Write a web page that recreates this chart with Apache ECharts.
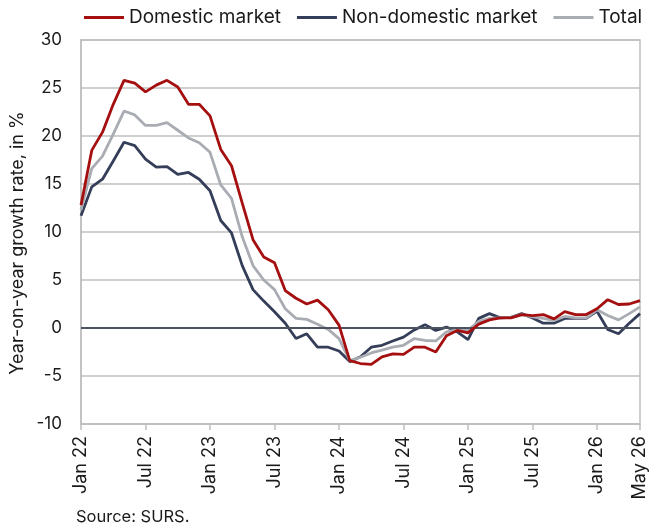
<!DOCTYPE html>
<html>
<head>
<meta charset="utf-8">
<script src="https://cdn.jsdelivr.net/npm/echarts@6/dist/echarts.min.js"></script>
<style>
html,body{margin:0;padding:0;background:#fff;}
#chart{width:651px;height:532px;}
</style>
</head>
<body>
<div id="chart"></div>
<script>
var months = [
 'Jan 22','Feb 22','Mar 22','Apr 22','May 22','Jun 22','Jul 22','Aug 22','Sep 22','Oct 22','Nov 22','Dec 22',
 'Jan 23','Feb 23','Mar 23','Apr 23','May 23','Jun 23','Jul 23','Aug 23','Sep 23','Oct 23','Nov 23','Dec 23',
 'Jan 24','Feb 24','Mar 24','Apr 24','May 24','Jun 24','Jul 24','Aug 24','Sep 24','Oct 24','Nov 24','Dec 24',
 'Jan 25','Feb 25','Mar 25','Apr 25','May 25','Jun 25','Jul 25','Aug 25','Sep 25','Oct 25','Nov 25','Dec 25',
 'Jan 26','Feb 26','Mar 26','Apr 26','May 26'
];
var shownLabels = ['Jan 22','Jul 22','Jan 23','Jul 23','Jan 24','Jul 24','Jan 25','Jul 25','Jan 26','May 26'];

var domestic = [
 12.8,18.5,20.4,23.3,25.8,25.5,24.6,25.3,25.8,25.1,23.3,23.3,
 22.1,18.6,16.9,13.0,9.2,7.4,6.8,3.9,3.1,2.5,2.9,1.9,
 0.3,-3.4,-3.7,-3.8,-3.0,-2.7,-2.75,-2.0,-2.0,-2.5,-0.8,-0.25,
 -0.5,0.4,0.85,1.05,1.05,1.4,1.3,1.4,0.95,1.7,1.4,1.4,
 2.0,2.95,2.45,2.5,2.85
];
var nonDomestic = [
 11.7,14.7,15.5,17.4,19.35,19.0,17.6,16.75,16.8,16.0,16.2,15.5,
 14.3,11.2,9.9,6.5,4.0,2.8,1.7,0.5,-1.1,-0.6,-2.0,-2.0,
 -2.4,-3.5,-3.0,-2.0,-1.8,-1.35,-0.95,-0.2,0.35,-0.25,0.1,-0.4,
 -1.2,1.0,1.5,1.05,1.1,1.5,1.05,0.5,0.5,1.0,1.0,1.0,
 1.75,-0.15,-0.6,0.5,1.5
];
var total = [
 12.3,16.6,17.9,20.2,22.6,22.2,21.1,21.1,21.4,20.6,19.8,19.3,
 18.3,14.9,13.5,9.5,6.5,5.0,4.0,2.0,1.0,0.9,0.4,-0.15,
 -1.1,-3.4,-3.05,-2.6,-2.3,-2.0,-1.8,-1.1,-1.3,-1.35,-0.4,-0.2,
 -0.25,0.7,1.0,1.05,1.1,1.4,1.15,1.0,0.8,1.2,1.05,1.05,
 1.9,1.3,0.85,1.5,2.2
];
var yTicks = {min: -10, max: 30, interval: 5};

var chart = echarts.init(document.getElementById('chart'));
function showIdx(i, v){ return shownLabels.indexOf(v) >= 0; }
var font = 'Inter, Liberation Sans, Arial, sans-serif';
var txt = '#1a1a1a';
chart.setOption({
  animation: false,
  textStyle: {fontFamily: font},
  legend: {
    top: 3, left: 79,
    icon: 'rect', itemWidth: 40, itemHeight: 3, itemGap: 16,
    textStyle: {fontSize: 19, color: txt, fontFamily: font},
    data: ['Domestic market','Non-domestic market','Total']
  },
  grid: {left: 81, right: 11, top: 40, bottom: 108, show: true, borderColor: '#BFBFBF', borderWidth: 1.5, backgroundColor: 'transparent'},
  xAxis: {
    type: 'category', boundaryGap: false, data: months,
    axisLine: {onZero: false, lineStyle: {color: '#BFBFBF', width: 1.5}},
    axisTick: {show: true, interval: showIdx, length: 6, lineStyle: {color: '#BFBFBF', width: 1.5}},
    axisLabel: {interval: showIdx, rotate: 90, fontSize: 18, color: txt, margin: 12, fontFamily: font},
    splitLine: {show: false}
  },
  yAxis: {
    type: 'value', min: yTicks.min, max: yTicks.max, interval: yTicks.interval,
    axisLine: {show: true, lineStyle: {color: '#BFBFBF', width: 1.5}},
    axisTick: {show: false},
    axisLabel: {fontSize: 17, color: txt, margin: 19, fontFamily: font},
    splitLine: {lineStyle: {color: '#BFBFBF', width: 1.5}}
  },
  series: [
    {name: 'Domestic market', type: 'line', data: domestic, symbol: 'none', z: 5,
     lineStyle: {color: '#A50F0F', width: 2.8}, itemStyle: {color: '#A50F0F'},
     markLine: {silent: true, symbol: 'none', label: {show: false},
       lineStyle: {color: '#4D535E', width: 2, type: 'solid'}, data: [{yAxis: 0}]}},
    {name: 'Non-domestic market', type: 'line', data: nonDomestic, symbol: 'none', z: 3,
     lineStyle: {color: '#353E59', width: 2.8}, itemStyle: {color: '#353E59'}},
    {name: 'Total', type: 'line', data: total, symbol: 'none', z: 4,
     lineStyle: {color: '#A9ADB3', width: 2.8}, itemStyle: {color: '#A9ADB3'}}
  ],
  graphic: [
    {type: 'text', x: 17.5, y: 243, rotation: Math.PI / 2,
     style: {text: 'Year-on-year growth rate, in %', fontSize: 18, fill: txt, fontFamily: font, align: 'center', verticalAlign: 'middle'}},
    {type: 'text', left: 76, top: 509, style: {text: 'Source: SURS.', fontSize: 16.5, fill: txt, fontFamily: font}}
  ]
});
</script>
</body>
</html>
